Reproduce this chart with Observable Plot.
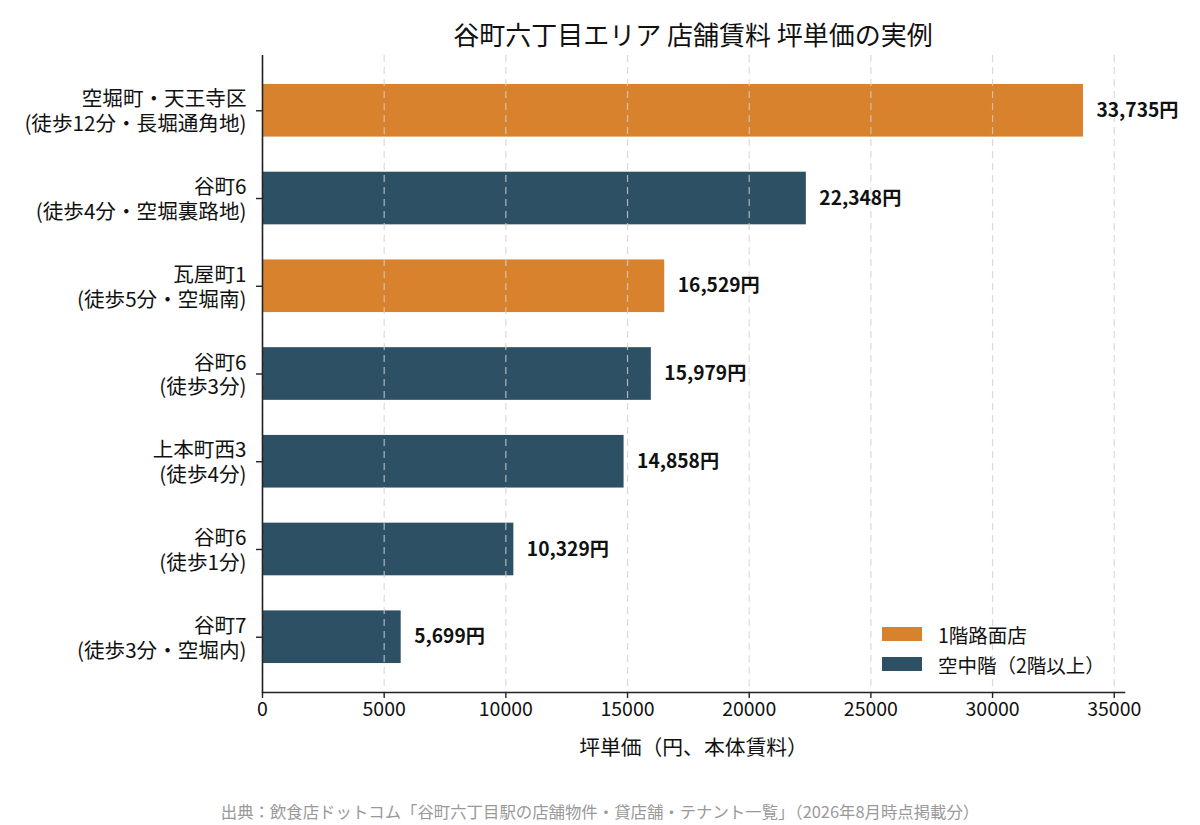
<!DOCTYPE html>
<html>
<head>
<meta charset="utf-8">
<script src="https://cdn.jsdelivr.net/npm/d3@7"></script>
<script src="https://cdn.jsdelivr.net/npm/@observablehq/plot@0.6"></script>
<style>
  body { margin: 0; background: #fff; font-family: "Noto Sans CJK JP", "Noto Sans", sans-serif; }
  #wrap { position: relative; width: 1200px; height: 825px; }
  #title { height: 50px; box-sizing: border-box; padding-top: 21px; padding-left: 262px; padding-right: 76px;
           text-align: center; font-size: 26px; line-height: 1; color: #111; }
  #caption { margin-top: 41px; text-align: center; font-size: 16.4px; line-height: 1; color: #999; }
  #legend { position: absolute; left: 882px; top: 619px; font-size: 19.5px; color: #111; }
  .item { display: flex; align-items: center; height: 30px; }
  .sw { width: 40px; height: 14px; margin-right: 16px; }
</style>
</head>
<body>
<div id="wrap">
  <div id="title">谷町六丁目エリア 店舗賃料 坪単価の実例</div>
  <div id="chart"></div>
  <div id="caption">出典：飲食店ドットコム「谷町六丁目駅の店舗物件・貸店舗・テナント一覧」（2026年8月時点掲載分）</div>
  <div id="legend"></div>
</div>
<script>
const labels = [
  "空堀町・天王寺区\n(徒歩12分・長堀通角地)",
  "谷町6\n(徒歩4分・空堀裏路地)",
  "瓦屋町1\n(徒歩5分・空堀南)",
  "谷町6\n(徒歩3分)",
  "上本町西3\n(徒歩4分)",
  "谷町6\n(徒歩1分)",
  "谷町7\n(徒歩3分・空堀内)"
];
const values = [33735, 22348, 16529, 15979, 14858, 10329, 5699];
const types = ["1階路面店", "空中階（2階以上）", "1階路面店", "空中階（2階以上）", "空中階（2階以上）", "空中階（2階以上）", "空中階（2階以上）"];
const typeNames = ["1階路面店", "空中階（2階以上）"];
const typeColors = ["#D9822E", "#2D5064"];
const xTicks = [0, 5000, 10000, 15000, 20000, 25000, 30000, 35000];

const data = labels.map((l, i) => ({label: l, value: values[i], type: types[i]}));
const fmt = d3.format(",");

const chart = Plot.plot({
  width: 1200,
  height: 712,
  marginTop: 5,
  marginLeft: 262,
  marginRight: 76,
  marginBottom: 70,
  style: {fontFamily: "'Noto Sans CJK JP', 'Noto Sans', sans-serif", fontSize: "19px", color: "#111", background: "#fff"},
  x: {domain: [0, d3.max(values) * 1.05]},
  y: {domain: labels, paddingInner: 0.4, paddingOuter: 0.33, round: false},
  color: {domain: typeNames, range: typeColors},
  marks: [
    Plot.barX(data, {x: "value", y: "label", fill: "type"}),
    Plot.gridX(xTicks, {stroke: "#cfcfcf", strokeOpacity: 0.8, strokeWidth: 1.2, strokeDasharray: "7,5"}),
    Plot.text(data, {x: "value", y: "label", text: d => fmt(d.value) + "円", dx: 13, textAnchor: "start",
      fontWeight: "bold", fontSize: 19.2, fill: "#111"}),
    Plot.axisX({ticks: xTicks, tickFormat: d => String(d), tickSize: 6, tickPadding: 4, fontSize: 19.5,
      stroke: "#222", strokeWidth: 1.4, label: "坪単価（円、本体賃料）", labelAnchor: "center", labelArrow: "none", labelOffset: 62}),
    Plot.axisY({tickSize: 6, tickPadding: 10, fontSize: 20.6, lineHeight: 1.2, stroke: "#222", strokeWidth: 1.4, label: null}),
    Plot.ruleX([0], {stroke: "#222", strokeWidth: 1.6}),
    Plot.frame({anchor: "bottom", stroke: "#222", strokeWidth: 1.6})
  ]
});
document.getElementById("chart").appendChild(chart);
// enlarge the x-axis label to match the reference
chart.querySelectorAll("g[aria-label='x-axis label'] text").forEach(t => t.setAttribute("font-size", "20.8"));

const legend = document.getElementById("legend");
typeNames.forEach((n, i) => {
  const it = document.createElement("div");
  it.className = "item";
  const sw = document.createElement("div");
  sw.className = "sw";
  sw.style.background = typeColors[i];
  const tx = document.createElement("span");
  tx.textContent = n;
  it.appendChild(sw); it.appendChild(tx);
  legend.appendChild(it);
});
</script>
</body>
</html>
